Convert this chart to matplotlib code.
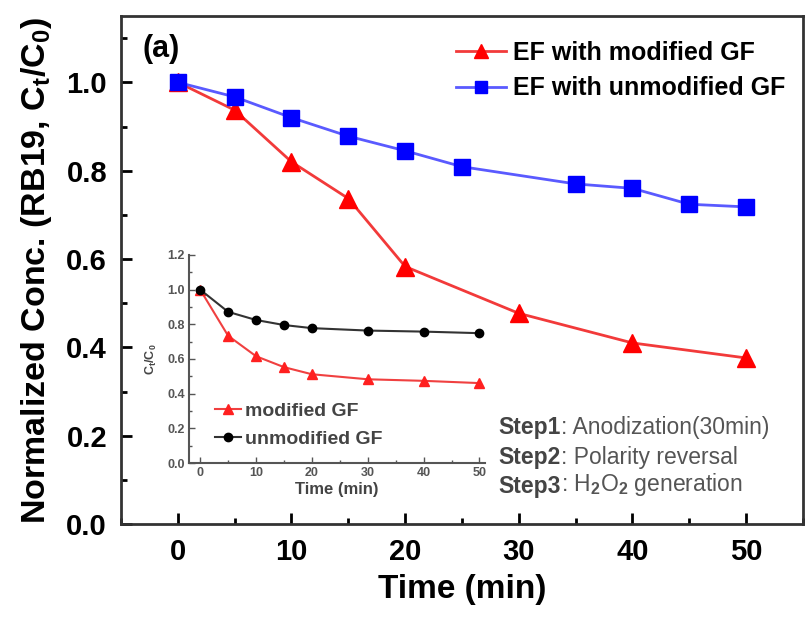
import matplotlib
matplotlib.use('Agg')
import matplotlib.pyplot as plt
from matplotlib.ticker import MultipleLocator, FormatStrFormatter

plt.rcParams.update({'font.family': 'Liberation Sans', 'font.weight': 'bold',
                     'axes.labelweight': 'bold',
                     'mathtext.fontset': 'custom', 'mathtext.rm': 'Liberation Sans',
                     'mathtext.bf': 'Liberation Sans:bold', 'mathtext.it': 'Liberation Sans:italic'})

# main panel data
time_modified = [0, 5, 10, 15, 20, 30, 40, 50]
conc_modified = [1.0, 0.937, 0.82, 0.737, 0.583, 0.477, 0.41, 0.376]
time_unmodified = [0, 5, 10, 15, 20, 25, 35, 40, 45, 50]
conc_unmodified = [1.0, 0.967, 0.92, 0.878, 0.845, 0.809, 0.77, 0.76, 0.724, 0.718]

# inset data
inset_time = [0, 5, 10, 15, 20, 30, 40, 50]
inset_modified = [1.0, 0.734, 0.616, 0.553, 0.512, 0.483, 0.474, 0.461]
inset_unmodified = [1.0, 0.872, 0.825, 0.796, 0.778, 0.764, 0.758, 0.749]

steps = [('Step1', ': Anodization(30min)'),
         ('Step2', ': Polarity reversal'),
         ('Step3', r': H$_2$O$_2$ generation')]

fig = plt.figure(figsize=(8.05, 6.18), dpi=100)
ax = fig.add_axes([0.1503, 0.152, 0.8472, 0.822])

ax.plot(time_modified, conc_modified, color='#f23a3a', lw=2, marker='^', ms=13,
        mfc='#ff0000', mec='#ff0000', label='EF with modified GF')
ax.plot(time_unmodified, conc_unmodified, color='#5a5aff', lw=2, marker='s', ms=11,
        mfc='#0000ff', mec='#0000ff', label='EF with unmodified GF')

ax.set_xlim(-5, 55)
ax.set_ylim(0, 1.15)
ax.xaxis.set_major_locator(MultipleLocator(10))
ax.xaxis.set_minor_locator(MultipleLocator(5))
ax.yaxis.set_major_locator(MultipleLocator(0.2))
ax.yaxis.set_minor_locator(MultipleLocator(0.1))
ax.yaxis.set_major_formatter(FormatStrFormatter('%.1f'))
ax.tick_params(which='both', direction='in', top=False, right=False, width=2)
ax.tick_params(which='major', length=8, labelsize=21, pad=10)
ax.tick_params(which='minor', length=4)
for sp in ax.spines.values():
    sp.set_linewidth(2)
    sp.set_color('#333333')

ax.set_xlabel('Time (min)', fontsize=24, labelpad=6)
ax.set_ylabel(r'Normalized Conc. (RB19, C$_\mathbf{t}$/C$_\mathbf{0}$)', fontsize=24.5, labelpad=9)

ax.text(-3.1, 1.075, '(a)', fontsize=22, va='center', ha='left')
ax.legend(loc='upper right', bbox_to_anchor=(1.0, 0.985), frameon=False, fontsize=18,
          handlelength=2.0, handletextpad=0.3, borderaxespad=0.3, labelspacing=0.45,
          markerscale=0.8)

# step annotations
for i, (head, rest) in enumerate(steps):
    t = ax.text(28.2, 0.203 - i * 0.066, head, fontsize=16.5, color='#444444',
                fontweight='bold', va='baseline', ha='left')
    ax.annotate(rest, xy=(1, 0), xycoords=t, fontsize=16.5, color='#555555',
                fontweight='normal', va='bottom', ha='left')

# inset
ins = fig.add_axes([0.2348, 0.2508, 0.3677, 0.3366])
ins.plot(inset_time, inset_modified, color='#f04040', lw=1.5, marker='^', ms=7,
         mfc='#ff2020', mec='#ff2020', label='modified GF')
ins.plot(inset_time, inset_unmodified, color='#333333', lw=1.5, marker='o', ms=6,
         mfc='black', mec='black', label='unmodified GF')
ins.set_xlim(-2, 51)
ins.set_ylim(0, 1.2)
ins.xaxis.set_major_locator(MultipleLocator(10))
ins.xaxis.set_minor_locator(MultipleLocator(5))
ins.yaxis.set_major_locator(MultipleLocator(0.2))
ins.yaxis.set_minor_locator(MultipleLocator(0.1))
ins.yaxis.set_major_formatter(FormatStrFormatter('%.1f'))
ins.spines['top'].set_visible(False)
ins.spines['right'].set_visible(False)
for s in ('left', 'bottom'):
    ins.spines[s].set_linewidth(1.5)
    ins.spines[s].set_color('#555555')
ins.patch.set_alpha(0)
ins.tick_params(which='both', direction='in', width=1, colors='#555555', labelcolor='#555555')
ins.tick_params(which='major', length=4, labelsize=9, pad=3)
ins.tick_params(which='minor', length=2)
ins.set_xlabel('Time (min)', fontsize=12, color='#444444', labelpad=2)
ins.set_ylabel(r'C$_\mathbf{t}$/C$_\mathbf{0}$', fontsize=9, color='#444444', labelpad=6)
ins.legend(loc='lower left', bbox_to_anchor=(0.03, -0.01), frameon=False, fontsize=14,
           handlelength=1.3, handletextpad=0.2, labelspacing=0.5, labelcolor='#444444')

fig.savefig('out.png', dpi=100)
